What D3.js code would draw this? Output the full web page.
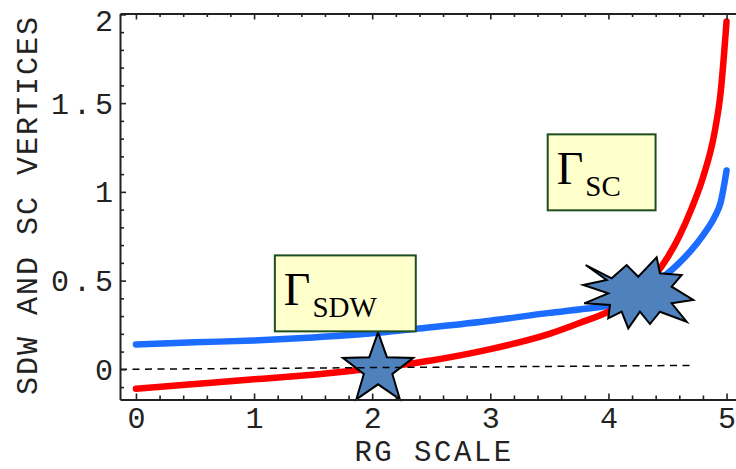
<!DOCTYPE html>
<html>
<head>
<meta charset="utf-8">
<script src="https://cdn.jsdelivr.net/npm/d3@7"></script>
<style>
  html, body { margin: 0; padding: 0; background: #fff; }
  svg { display: block; }
  .tick text { font-family: "Courier New", "Liberation Mono", monospace; }
</style>
</head>
<body>
<svg id="chart" width="736" height="469"></svg>
<script>
// RG flow of the SDW and SC vertices
const rgScale   = [0, 0.5, 1, 1.5, 2, 2.5, 3, 3.5, 3.75, 4, 4.25, 4.5, 4.6, 4.7, 4.8, 4.9, 4.95, 5];
const sdwVertex = [0.14, 0.152, 0.163, 0.18, 0.203, 0.237, 0.274, 0.318, 0.337, 0.36, 0.43, 0.54, 0.6, 0.67, 0.755, 0.86, 0.94, 1.12];
const scVertex  = [-0.11, -0.083, -0.056, -0.03, 0.005, 0.05, 0.114, 0.2, 0.26, 0.325, 0.43, 0.63, 0.75, 0.9, 1.08, 1.34, 1.56, 1.96];

// Reference line near zero (dashed)
const zeroLineX = [-0.135, 4.71];
const zeroLineY = [0, 0.022];

// Tick values
const xMajorTicks = [0, 1, 2, 3, 4, 5];
const yMajorTicks = [0, 0.5, 1, 1.5, 2];
const xTickLabels = ["0", "1", "2", "3", "4", "5"];
const yTickLabels = ["0", "0.5", "1", "1.5", "2"];

// Markers: where SC vertex changes sign, and where the two vertices cross
const signChangePoint = [2.05, 0];
const crossingPoint   = [4.25, 0.43];

// Labels in boxes: [x0, yTop, x1, yBottom] in data units
const labelNames = ["SDW", "SC"];
const labelBoxes = [[1.176, 0.642, 2.369, 0.214], [3.486, 1.324, 4.399, 0.896]];

const svg = d3.select("#chart");

const x = d3.scaleLinear().domain([-0.135, 5.08]).range([120, 736]);
const y = d3.scaleLinear().domain([-0.17, 2.005]).range([399.5, 13.5]);

const monoFont = '"Courier New", "Liberation Mono", monospace';
const serifFont = '"Liberation Serif", "Times New Roman", serif';
const frameColor = "#222";

// soft edge for the curves
const defs = svg.append("defs");
defs.append("filter").attr("id", "soft")
  .append("feGaussianBlur").attr("stdDeviation", 0.55);

// ---- curves ----
const line = d3.line()
  .x(d => x(d[0])).y(d => y(d[1]))
  .curve(d3.curveMonotoneX);

const curves = svg.append("g").attr("filter", "url(#soft)");
curves.append("path")
  .datum(rgScale.map((r, i) => [r, sdwVertex[i]]))
  .attr("d", line)
  .attr("fill", "none").attr("stroke", "#1a6dff")
  .attr("stroke-width", 6.5).attr("stroke-linecap", "round");
curves.append("path")
  .datum(rgScale.map((r, i) => [r, scVertex[i]]))
  .attr("d", line)
  .attr("fill", "none").attr("stroke", "#ff0000")
  .attr("stroke-width", 6.5).attr("stroke-linecap", "round");

// ---- markers ----
const starFill = "#4f81bd";
// five-pointed star
const starPts = d3.range(10).map(i => {
  const a = -Math.PI / 2 + i * Math.PI / 5;
  const r = i % 2 === 0 ? 37 : 15;
  return [r * Math.cos(a), r * Math.sin(a)];
});
svg.append("path")
  .attr("transform", `translate(${x(signChangePoint[0])},${y(signChangePoint[1])})`)
  .attr("d", "M" + starPts.join("L") + "Z")
  .attr("fill", starFill).attr("stroke", "#000").attr("stroke-width", 2)
  .attr("stroke-linejoin", "miter");

// explosion burst outline (offsets from its centre, px)
const burstOutline = [
  [-52.3, -28], [-26.3, -14.7], [-11.3, -28], [0.3, -16.3], [18.7, -35.7], [22, -19.7],
  [43.7, -18], [33.7, -6.3], [55.3, 7], [33.7, 10.3], [48.7, 28.7], [22, 18.7],
  [12, 31], [2, 18.7], [-9.7, 35.3], [-16.3, 18.7], [-29.7, 25.3], [-28, 12],
  [-53.7, 10.3], [-29.7, 0.3], [-54.7, -8], [-31.3, -13]
];
svg.append("path")
  .attr("transform", `translate(${x(crossingPoint[0])},${y(crossingPoint[1])})`)
  .attr("d", "M" + burstOutline.join("L") + "Z")
  .attr("fill", starFill).attr("stroke", "#000").attr("stroke-width", 2)
  .attr("stroke-linejoin", "miter");

// ---- dashed zero line ----
svg.append("line")
  .attr("x1", x(zeroLineX[0])).attr("y1", y(zeroLineY[0]))
  .attr("x2", x(zeroLineX[1])).attr("y2", y(zeroLineY[1]))
  .attr("stroke", "#000").attr("stroke-width", 1.5)
  .attr("stroke-dasharray", "7,5.5");

// ---- axes ----
const xMinor = d3.range(0, 5.01, 0.2).map(v => +v.toFixed(1)).filter(v => !xMajorTicks.includes(v));
const yMinor = d3.range(-0.1, 2.0, 0.1).map(v => +v.toFixed(1)).filter(v => !yMajorTicks.includes(v));

function styleAxis(g) {
  g.select(".domain").attr("stroke", frameColor).attr("stroke-width", 2);
  g.selectAll(".tick line").attr("stroke", frameColor).attr("stroke-width", 1.6);
}

// bottom
const bottom = svg.append("g").attr("transform", `translate(0,${y.range()[0]})`)
  .call(d3.axisBottom(x).tickValues(xMajorTicks).tickSize(-6).tickSizeOuter(0).tickPadding(7)
    .tickFormat((d, i) => xTickLabels[i]))
  .call(styleAxis);
bottom.selectAll(".tick text")
  .attr("font-size", 30).attr("fill", "#222").attr("font-family", monoFont);
svg.append("g").attr("transform", `translate(0,${y.range()[0]})`)
  .call(d3.axisBottom(x).tickValues(xMinor).tickSize(-4).tickSizeOuter(0).tickFormat(""))
  .call(g => g.select(".domain").remove())
  .call(styleAxis);

// top
svg.append("g").attr("transform", `translate(0,${y.range()[1]})`)
  .call(d3.axisTop(x).tickValues(xMajorTicks).tickSize(-6).tickSizeOuter(0).tickFormat(""))
  .call(styleAxis);
svg.append("g").attr("transform", `translate(0,${y.range()[1]})`)
  .call(d3.axisTop(x).tickValues(xMinor).tickSize(-3.5).tickSizeOuter(0).tickFormat(""))
  .call(g => g.select(".domain").remove())
  .call(styleAxis);

// left
const left = svg.append("g").attr("transform", `translate(${x.range()[0]},0)`)
  .call(d3.axisLeft(y).tickValues(yMajorTicks).tickSize(-6).tickSizeOuter(0).tickPadding(3)
    .tickFormat((d, i) => yTickLabels[i]))
  .call(styleAxis);
left.selectAll(".tick text")
  .attr("font-size", 30).attr("fill", "#222").attr("font-family", monoFont)
  .attr("letter-spacing", 4)
  .attr("dy", d => d === 2 ? "0.55em" : "0.33em");
svg.append("g").attr("transform", `translate(${x.range()[0]},0)`)
  .call(d3.axisLeft(y).tickValues(yMinor).tickSize(-4).tickSizeOuter(0).tickFormat(""))
  .call(g => g.select(".domain").remove())
  .call(styleAxis);

// ---- axis titles ----
svg.append("text")
  .attr("x", 434).attr("y", 461)
  .attr("text-anchor", "middle")
  .attr("font-family", monoFont).attr("font-size", 29).attr("letter-spacing", 2.5)
  .attr("fill", "#222")
  .text("RG SCALE");
svg.append("text")
  .attr("transform", "translate(37,205) rotate(-90)")
  .attr("text-anchor", "middle")
  .attr("font-family", monoFont).attr("font-size", 30).attr("letter-spacing", 2)
  .attr("fill", "#222")
  .text("SDW AND SC VERTICES");

// ---- boxed vertex labels ----
labelBoxes.forEach((b, i) => {
  const x0 = x(b[0]), y0 = y(b[1]), x1 = x(b[2]), y1 = y(b[3]);
  const g = svg.append("g");
  g.append("rect")
    .attr("x", x0).attr("y", y0).attr("width", x1 - x0).attr("height", y1 - y0)
    .attr("fill", "#ffffcc").attr("stroke", "#1e4d1e").attr("stroke-width", 2);
  const t = g.append("text")
    .attr("x", x0 + 9).attr("y", y0 + 50)
    .attr("font-family", serifFont).attr("fill", "#000");
  t.append("tspan").attr("font-size", 46).text("Γ");
  t.append("tspan").attr("font-size", 29).attr("dy", 12).attr("dx", 2).text(labelNames[i]);
});
</script>
</body>
</html>
